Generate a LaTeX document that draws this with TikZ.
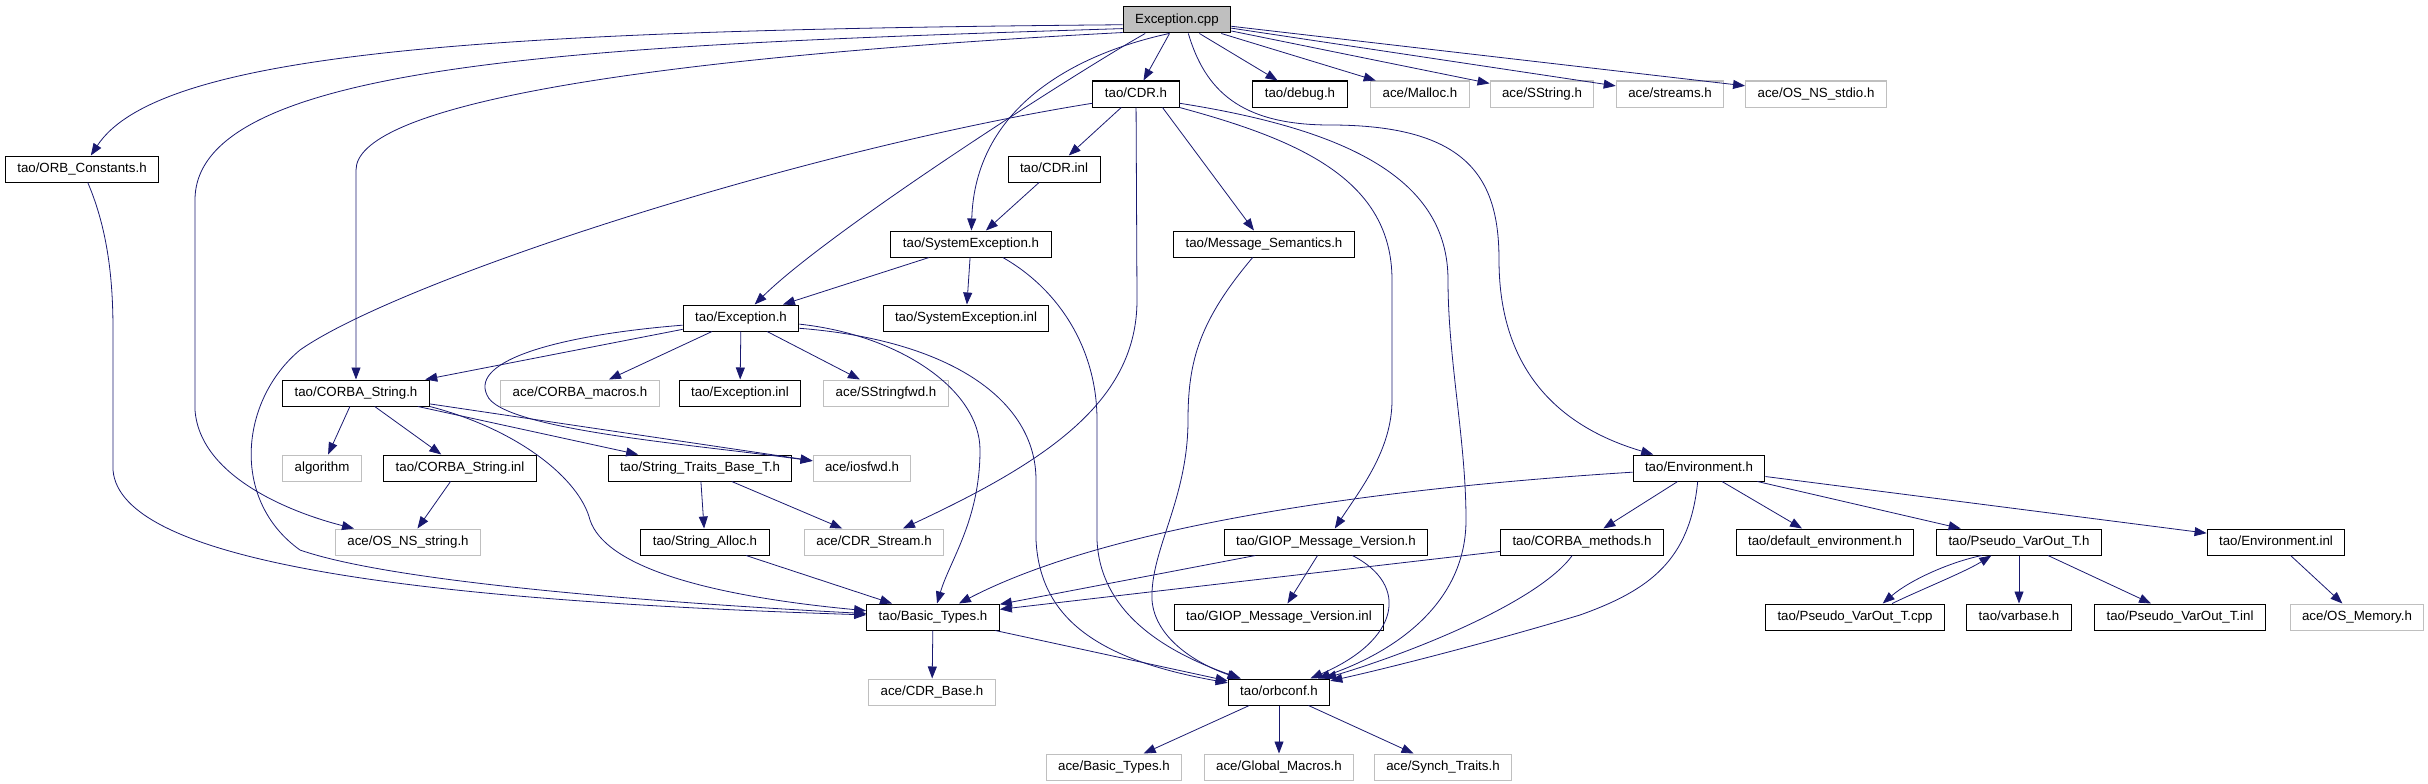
\documentclass[tikz,border=0pt]{standalone}
\usepackage{fontspec}
\setmainfont{Liberation Sans}
\usetikzlibrary{arrows.meta}
\definecolor{edgec}{HTML}{191970}
\definecolor{grayb}{HTML}{BFBFBF}
\begin{document}
\begin{tikzpicture}[x=1pt,y=-1pt,
  box/.style={draw=black, line width=1pt, minimum height=26pt, inner xsep=12pt, inner ysep=0pt,
    font=\fontsize{13.3}{16}\selectfont, text height=10pt, text depth=3pt},
  ext/.style={box, draw=grayb},
  root/.style={box, fill=grayb},
  dep/.style={draw=edgec, line width=0.8pt, -{Triangle[length=12pt,width=9pt]}},
]
\useasboundingbox (0,0) rectangle (2428,784);

% row 0
\node[root] (cpp) at (1177,20) {Exception.cpp};
% row 1
\node[box] (cdrh) at (1136,94) {tao/CDR.h};
\node[box] (debug) at (1300,94) {tao/debug.h};
\node[ext] (malloc) at (1420,94) {ace/Malloc.h};
\node[ext] (sstr) at (1542,94) {ace/SString.h};
\node[ext] (streams) at (1670,94) {ace/streams.h};
\node[ext] (stdio) at (1816,94) {ace/OS\_NS\_stdio.h};
% row 2
\node[box] (orbc) at (82,169) {tao/ORB\_Constants.h};
\node[box] (cdrinl) at (1054,169) {tao/CDR.inl};
% row 3
\node[box] (sysexc) at (971,244) {tao/SystemException.h};
\node[box] (msgsem) at (1264,244) {tao/Message\_Semantics.h};
% row 4
\node[box] (exch) at (741,318) {tao/Exception.h};
\node[box] (sysinl) at (966,318) {tao/SystemException.inl};
% row 5
\node[box] (cstr) at (356,393) {tao/CORBA\_String.h};
\node[ext] (macros) at (580,393) {ace/CORBA\_macros.h};
\node[box] (excinl) at (740,393) {tao/Exception.inl};
\node[ext] (sstrfwd) at (886,393) {ace/SStringfwd.h};
% row 6
\node[ext] (algo) at (322,468) {algorithm};
\node[box] (cstrinl) at (460,468) {tao/CORBA\_String.inl};
\node[box] (stb) at (700,468) {tao/String\_Traits\_Base\_T.h};
\node[ext] (iosfwd) at (862,468) {ace/iosfwd.h};
\node[box] (envh) at (1699,468) {tao/Environment.h};
% row 7
\node[ext] (nsstr) at (408,542) {ace/OS\_NS\_string.h};
\node[box] (salloc) at (705,542) {tao/String\_Alloc.h};
\node[ext] (cdrstream) at (874,542) {ace/CDR\_Stream.h};
\node[box] (giop) at (1326,542) {tao/GIOP\_Message\_Version.h};
\node[box] (cmeth) at (1582,542) {tao/CORBA\_methods.h};
\node[box] (defenv) at (1825,542) {tao/default\_environment.h};
\node[box] (pvoh) at (2019,542) {tao/Pseudo\_VarOut\_T.h};
\node[box] (envinl) at (2276,542) {tao/Environment.inl};
% row 8
\node[box] (basic) at (933,617) {tao/Basic\_Types.h};
\node[box] (giopinl) at (1279,617) {tao/GIOP\_Message\_Version.inl};
\node[box] (pvocpp) at (1855,617) {tao/Pseudo\_VarOut\_T.cpp};
\node[box] (varbase) at (2019,617) {tao/varbase.h};
\node[box] (pvoinl) at (2180,617) {tao/Pseudo\_VarOut\_T.inl};
\node[ext] (osmem) at (2357,617) {ace/OS\_Memory.h};
% row 9
\node[ext] (cdrbase) at (932,692) {ace/CDR\_Base.h};
\node[box] (orbconf) at (1279,692) {tao/orbconf.h};
% row 10
\node[ext] (abasic) at (1114,767) {ace/Basic\_Types.h};
\node[ext] (gmac) at (1279,767) {ace/Global\_Macros.h};
\node[ext] (synch) at (1443,767) {ace/Synch\_Traits.h};

% Exception.cpp
\draw[dep] (cpp.185) .. controls (500,30) and (160,50) .. (orbc);
\draw[dep] (cpp.189) .. controls (600,45) and (195,60) .. (195,200) -- (195,410)
  .. controls (200,480) and (300,515) .. (nsstr);
\draw[dep] (cpp.193) .. controls (600,60) and (356,110) .. (356,170) -- (cstr);
\draw[dep] (cpp.203) .. controls (1080,70) and (830,230) .. (exch);
\draw[dep] (cpp.240) .. controls (1070,55) and (975,110) .. (sysexc);
\draw[dep] (cpp) -- (cdrh);
\draw[dep] (cpp) -- (debug);
\draw[dep] (cpp) -- (malloc);
\draw[dep] (cpp) -- (sstr);
\draw[dep] (cpp) -- (streams);
\draw[dep] (cpp) -- (stdio);
\draw[dep] (cpp.310) .. controls (1205,90) and (1240,125) .. (1330,125)
  .. controls (1470,125) and (1499,180) .. (1499,260)
  .. controls (1499,380) and (1570,430) .. (envh);

% CDR.h
\draw[dep] (cdrh) -- (cdrinl);
\draw[dep] (cdrh.333) -- (msgsem);
\draw[dep] (cdrh.192) .. controls (800,150) and (400,280) .. (300,350)
  .. controls (240,400) and (230,500) .. (300,550)
  .. controls (400,585) and (700,605) .. (basic);
\draw[dep] (cdrh) -- (1137,300) .. controls (1137,400) and (1050,460) .. (cdrstream);
\draw[dep] (cdrh.south east) .. controls (1300,140) and (1392,180) .. (1392,280) -- (1392,400)
  .. controls (1392,450) and (1360,490) .. (giop);
\draw[dep] (cdrh.348) .. controls (1350,130) and (1448,180) .. (1448,280)
  .. controls (1448,360) and (1466,440) .. (1466,520)
  .. controls (1466,600) and (1400,650) .. (orbconf);
\draw[dep] (cdrinl) -- (sysexc);

% SystemException.h
\draw[dep] (sysexc) -- (exch);
\draw[dep] (sysexc) -- (sysinl);
\draw[dep] (sysexc.337) .. controls (1060,290) and (1097,350) .. (1097,420) -- (1097,540)
  .. controls (1100,610) and (1160,650) .. (orbconf);
\draw[dep] (msgsem) .. controls (1200,320) and (1188,360) .. (1188,420)
  .. controls (1188,500) and (1150,550) .. (1152,600)
  .. controls (1155,640) and (1200,665) .. (orbconf);

% Exception.h
\draw[dep] (exch) -- (cstr);
\draw[dep] (exch) -- (macros);
\draw[dep] (exch) -- (excinl);
\draw[dep] (exch) -- (sstrfwd);
\draw[dep] (exch.187) .. controls (560,335) and (470,360) .. (487,395)
  .. controls (500,430) and (700,445) .. (iosfwd);
\draw[dep] (exch.354) .. controls (900,335) and (980,390) .. (980,450)
  .. controls (980,520) and (950,560) .. (basic);
\draw[dep] (exch.350) .. controls (950,340) and (1036,400) .. (1036,480) -- (1036,540)
  .. controls (1040,620) and (1100,660) .. (orbconf);

% CORBA_String.h
\draw[dep] (cstr) -- (algo);
\draw[dep] (cstr) -- (cstrinl);
\draw[dep] (cstr) -- (stb);
\draw[dep] (cstr) -- (iosfwd);
\draw[dep] (cstr.south east) .. controls (520,430) and (580,480) .. (590,520)
  .. controls (605,565) and (700,595) .. (basic);
\draw[dep] (cstrinl) -- (nsstr);
\draw[dep] (stb) -- (salloc);
\draw[dep] (stb) -- (cdrstream);
\draw[dep] (salloc) -- (basic);
\draw[dep] (orbc) .. controls (108,230) and (113,280) .. (113,330) -- (113,470)
  .. controls (120,560) and (400,600) .. (basic);

% Environment.h
\draw[dep] (envh) .. controls (1350,490) and (1100,530) .. (basic);
\draw[dep] (envh) -- (cmeth);
\draw[dep] (envh) .. controls (1690,560) and (1650,590) .. (1580,615)
  .. controls (1480,645) and (1380,670) .. (orbconf);
\draw[dep] (envh) -- (defenv);
\draw[dep] (envh) -- (pvoh);
\draw[dep] (envh) -- (envinl);
\draw[dep] (pvoh.200) .. controls (1950,562) and (1910,580) .. (pvocpp.26);
\draw[dep] (pvocpp.20) .. controls (1920,590) and (1965,572) .. (pvoh.206);
\draw[dep] (pvoh) -- (varbase);
\draw[dep] (pvoh) -- (pvoinl);
\draw[dep] (envinl) -- (osmem);

% GIOP, CORBA_methods
\draw[dep] (giop) -- (giopinl);
\draw[dep] (giop) -- (basic);
\draw[dep] (giop) .. controls (1410,585) and (1400,640) .. (orbconf);
\draw[dep] (cmeth) -- (basic);
\draw[dep] (cmeth) .. controls (1540,600) and (1420,650) .. (orbconf);

% Basic_Types, orbconf
\draw[dep] (basic) -- (orbconf);
\draw[dep] (basic) -- (cdrbase);
\draw[dep] (orbconf) -- (abasic);
\draw[dep] (orbconf) -- (gmac);
\draw[dep] (orbconf) -- (synch);
\end{tikzpicture}
\end{document}
